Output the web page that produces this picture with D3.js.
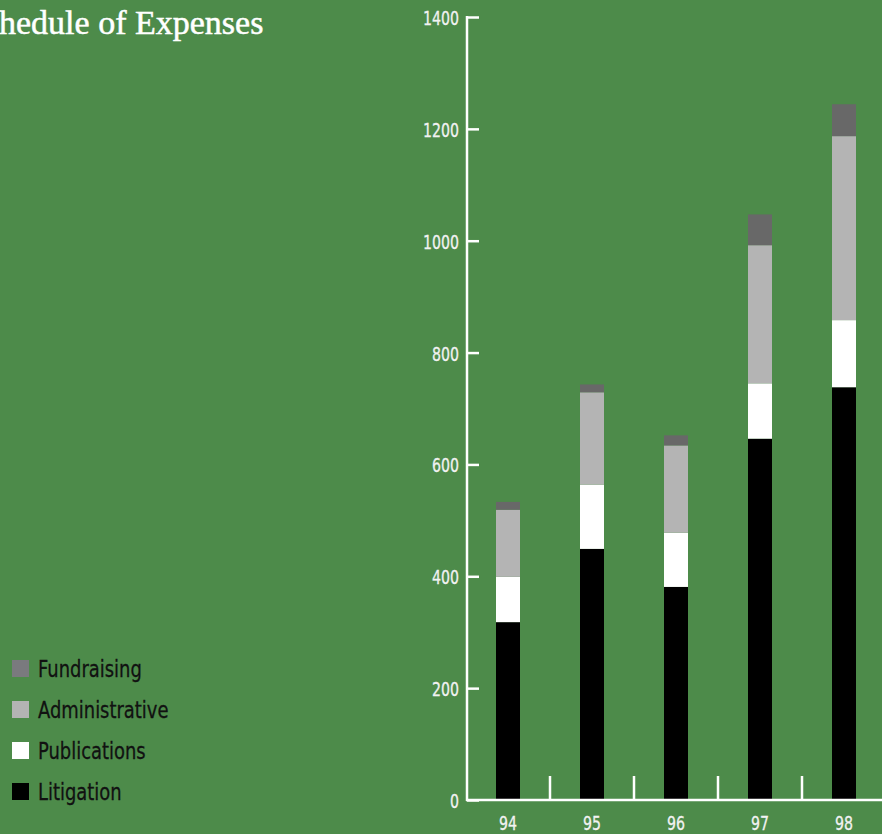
<!DOCTYPE html>
<html><head><meta charset="utf-8">
<script src="https://cdn.jsdelivr.net/npm/d3@7/dist/d3.min.js"></script>
<style>html,body{margin:0;padding:0;background:#4d8b4a;overflow:hidden}</style>
</head><body>
<script>
const years = ["94","95","96","97","98"];
const litigation = [318, 449, 381, 646, 738];
const publications = [81, 115, 97, 99, 120];
const administrative = [120, 165, 156, 247, 329];
const fundraising = [14, 14, 18, 55, 57];
const seriesNames = ["Litigation","Publications","Administrative","Fundraising"];
const seriesColors = ["#000000","#ffffff","#b4b4b4","#686868"];
const legendColors = ["#000000","#ffffff","#b4b4b4","#7a7a7e"];
const yTicks = [0,200,400,600,800,1000,1200,1400];

const W=882,H=834;
const svg=d3.select("body").append("svg").attr("width",W).attr("height",H);
svg.append("rect").attr("width",W).attr("height",H).attr("fill","#4d8b4a");

const data = years.map((y,i)=>({year:y,Litigation:litigation[i],Publications:publications[i],Administrative:administrative[i],Fundraising:fundraising[i]}));
const stack=d3.stack().keys(seriesNames)(data);

const y=d3.scaleLinear().domain([0,1400]).range([800,17]);
const x=d3.scaleBand().domain(years).range([466,886]).paddingInner(60/84).paddingOuter(30/84);
const font="'DejaVu Sans',sans-serif";

function ctext(sel, px, py, sx, size, fill, anchor, txt){
  sel.append("text").attr("transform",`translate(${px},${py}) scale(${sx},1)`)
    .attr("fill",fill).attr("font-family",font).attr("font-size",size)
    .attr("text-anchor",anchor).attr("stroke",fill).attr("stroke-width",0.3).text(txt);
}

// title
svg.append("text").attr("x",-35).attr("y",34).attr("fill","#fff")
  .attr("font-family","'Liberation Serif','DejaVu Serif',serif").attr("font-size",34)
  .attr("stroke","#fff").attr("stroke-width",0.5)
  .text("Schedule of Expenses");

// bars
svg.selectAll("g.s").data(stack).join("g").attr("fill",(d,i)=>seriesColors[i])
  .selectAll("rect").data(d=>d).join("rect")
  .attr("x",d=>x(d.data.year)).attr("width",x.bandwidth())
  .attr("y",d=>y(d[1])).attr("height",d=>y(d[0])-y(d[1]));

// y axis
const ya=svg.append("g").attr("transform","translate(467,0)")
  .call(d3.axisRight(y).tickValues(yTicks).tickSize(12).tickFormat(""));
ya.select(".domain").remove();
ya.selectAll("line").attr("stroke","#fff").attr("stroke-width",2.5);
svg.append("line").attr("x1",467).attr("x2",467).attr("y1",16).attr("y2",801).attr("stroke","#fff").attr("stroke-width",2.5);
const yl=svg.append("g");
yTicks.forEach(t=>ctext(yl,459,y(t)+8,0.745,19,"#f2f2f2","end",t));

// x axis
svg.append("line").attr("x1",466).attr("x2",882).attr("y1",800).attr("y2",800).attr("stroke","#fff").attr("stroke-width",2.5);
const seps=years.slice(1).map((d,i)=>(x(years[i])+x(d))/2+x.bandwidth()/2);
svg.selectAll("line.sep").data(seps).join("line").attr("class","sep")
  .attr("x1",d=>d).attr("x2",d=>d).attr("y1",776).attr("y2",800).attr("stroke","#fff").attr("stroke-width",2.5);
const xl=svg.append("g");
years.forEach(d=>ctext(xl,x(d)+x.bandwidth()/2,830,0.745,19,"#f2f2f2","middle",d));

// legend
const legOrder=[3,2,1,0];
legOrder.forEach((d,i)=>{
  const g=svg.append("g").attr("transform",`translate(12,${660+i*41})`);
  g.append("rect").attr("width",17).attr("height",17).attr("fill",legendColors[d]);
  ctext(g,26,17,0.78,23,"#111","start",seriesNames[d]);
});
</script>
</body></html>
